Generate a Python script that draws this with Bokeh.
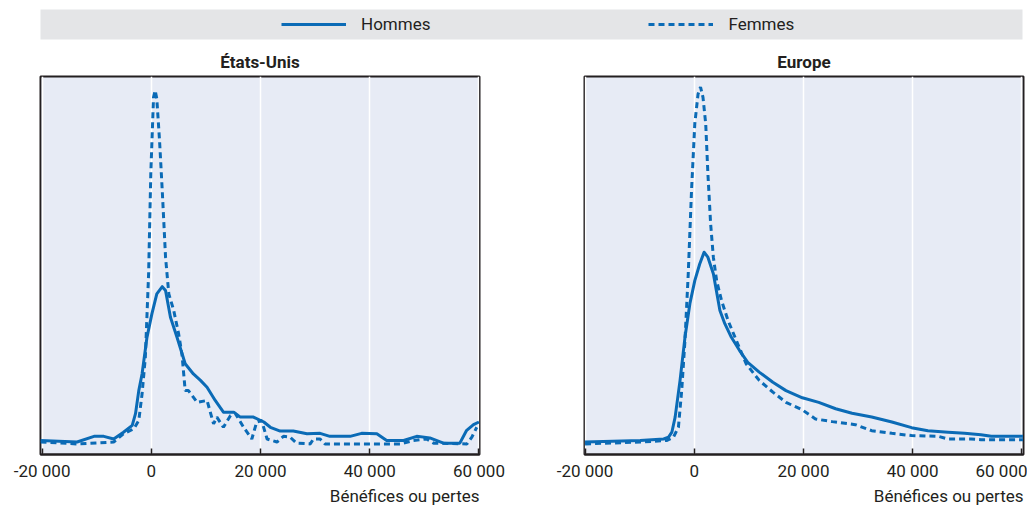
from bokeh.plotting import figure
from bokeh.models import Range1d, FixedTicker, Legend, LegendItem, Title
from bokeh.layouts import column, row
from bokeh.embed import file_html
from bokeh.resources import INLINE

# ---------------- data ----------------
panel_titles = ["États-Unis", "Europe"]
series_names = ["Hommes", "Femmes"]
x_axis_label = "Bénéfices ou pertes"
tick_values = [-20000, 0, 20000, 40000, 60000]
tick_labels = ["-20 000", "0", "20 000", "40 000", "60 000"]

us_hommes_x = [-20300, -13600, -10500, -8700, -6900, -5100, -3500, -2900, -2300, -1700, -800, 100,
               1000, 2000, 2600, 3500, 4700, 6200, 7700, 9000, 10200, 11700, 13200, 15100, 16300,
               18700, 20600, 21800, 23600, 26000, 28500, 30900, 32700, 36400, 38500, 41300, 43100,
               46200, 48600, 51000, 53500, 56500, 57700, 59000, 60000]
us_hommes_y = [3.7, 3.3, 4.8, 4.8, 4.1, 5.9, 7.7, 10.8, 16.9, 21.3, 31.0, 37.2, 42.5, 44.4, 43.4,
               36.3, 31.0, 24.0, 21.3, 19.6, 17.8, 14.3, 11.2, 11.2, 9.9, 9.9, 8.6, 7.2, 6.2, 6.2,
               5.5, 5.6, 4.8, 4.8, 5.6, 5.5, 3.7, 3.7, 4.8, 4.4, 3.0, 3.0, 6.3, 7.9, 8.6]

us_femmes_x = [-20300, -13600, -6900, -5100, -3200, -2300, -1700, -1100, -500, -100, 400, 700, 1000,
               1500, 2000, 2600, 3200, 4100, 5000, 5600, 6200, 6800, 8400, 10200, 11400, 12000,
               13200, 14500, 15400, 16900, 18400, 19300, 20200, 21200, 23000, 24200, 25400, 26600,
               29100, 29700, 30900, 31800, 45600, 48000, 50400, 51700, 57800, 58700, 59600]
us_femmes_y = [3.3, 2.8, 3.3, 5.5, 6.8, 9.0, 16.0, 25.7, 47.8, 74.3, 94.5, 96.3, 94.1, 83.1, 69.8,
               52.2, 42.5, 38.1, 31.9, 26.6, 16.9, 16.9, 13.8, 14.3, 8.1, 9.9, 7.2, 10.3, 10.8, 7.2,
               4.1, 8.6, 9.0, 4.1, 3.3, 4.8, 4.6, 3.0, 2.8, 4.1, 4.1, 2.8, 2.8, 3.7, 4.1, 3.0, 2.8,
               4.6, 7.2]

eu_hommes_x = [-20000, -9900, -5600, -4700, -4100, -3500, -2600, -1700, -800, 100, 1000, 1800, 2500,
               3500, 4700, 5600, 6800, 8300, 9800, 11900, 14400, 16800, 19800, 22800, 25900, 28900,
               32500, 36200, 39800, 42800, 46500, 49500, 52500, 54400, 60200]
eu_hommes_y = [3.3, 3.7, 4.1, 4.6, 5.9, 9.9, 19.6, 31.0, 39.9, 46.0, 50.4, 53.5, 52.2, 47.8, 38.1,
               34.6, 31.0, 27.5, 24.4, 21.8, 19.1, 16.9, 15.0, 13.8, 12.1, 10.9, 9.9, 8.6, 7.1, 6.3,
               5.9, 5.6, 5.2, 4.8, 4.8]

eu_femmes_x = [-20000, -9900, -5000, -3800, -2900, -2300, -1700, -1100, -500, 100, 700, 1150, 1600,
               2100, 2500, 3000, 3500, 4100, 5000, 6200, 7700, 9500, 11900, 14400, 16800, 19800,
               22200, 25300, 29500, 32500, 36200, 39800, 44700, 46500, 50700, 52500, 60200]
eu_femmes_y = [2.8, 3.3, 3.7, 4.6, 7.2, 16.9, 30.2, 47.8, 69.8, 87.5, 95.4, 97.2, 94.5, 87.5, 74.3,
               61.0, 52.2, 46.0, 40.7, 35.4, 30.2, 24.0, 19.6, 16.5, 13.8, 11.8, 9.4, 8.7, 7.9, 6.3,
               5.6, 5.0, 4.8, 4.1, 4.1, 3.9, 3.9]

# ---------------- styles ----------------
FONT = "Roboto"
BLUE = "#0B6BB6"
TEXT = "#231F20"
PANEL_BG = "#E7EBF5"
LEGEND_BG = "#E4E5E7"
DASH = "6 4"
LW = 3


def make_panel(title, hx, hy, fx, fy, xr, width, bl, br):
    p = figure(width=width, height=462, output_backend="svg", toolbar_location=None,
               x_range=Range1d(*xr), y_range=Range1d(0, 100),
               min_border_left=bl, min_border_right=br, min_border_top=32, min_border_bottom=52,
               background_fill_color=PANEL_BG, border_fill_color="white")
    p.line(hx, hy, line_color=BLUE, line_width=LW, line_join="round")
    p.line(fx, fy, line_color=BLUE, line_width=LW, line_dash=DASH)
    p.title.text = title
    p.title.align = "center"
    p.title.text_font = FONT
    p.title.text_font_size = "17px"
    p.title.text_font_style = "bold"
    p.title.text_color = TEXT
    p.title.standoff = 10
    p.outline_line_color = TEXT
    p.outline_line_width = 2
    p.outline_line_alpha = 1
    p.yaxis.visible = False
    p.ygrid.visible = False
    p.xgrid.grid_line_color = "white"
    p.xgrid.grid_line_width = 1.5
    ax = p.xaxis[0]
    ax.ticker = FixedTicker(ticks=tick_values)
    ax.major_label_overrides = {v: l for v, l in zip(tick_values, tick_labels)}
    ax.major_tick_in = 6
    ax.major_tick_out = 0
    ax.minor_tick_line_color = None
    ax.major_tick_line_color = TEXT
    ax.major_tick_line_width = 1.5
    ax.axis_line_color = TEXT
    ax.axis_line_width = 2
    ax.major_label_text_font = FONT
    ax.major_label_text_font_size = "17px"
    ax.major_label_text_color = TEXT
    ax.major_label_standoff = 6
    lab = Title(text=x_axis_label, align="right", text_font=FONT, text_font_size="17px",
                text_font_style="normal", text_color=TEXT, standoff=0)
    p.add_layout(lab, "below")
    return p


p1 = make_panel(panel_titles[0], us_hommes_x, us_hommes_y, us_femmes_x, us_femmes_y,
                (-20300, 60100), 520, 40, 41)
p2 = make_panel(panel_titles[1], eu_hommes_x, eu_hommes_y, eu_femmes_x, eu_femmes_y,
                (-20100, 60300), 507, 64, 4)

# legend strip
lg = figure(width=1027, height=44, output_backend="svg", toolbar_location=None,
            x_range=Range1d(0, 1), y_range=Range1d(0, 1),
            min_border_left=40, min_border_right=5, min_border_top=9, min_border_bottom=5,
            background_fill_color=LEGEND_BG, border_fill_color="white", outline_line_color=None)
lg.axis.visible = False
lg.grid.visible = False
nan = float("nan")
r_h = lg.line([nan], [nan], line_color=BLUE, line_width=LW)
r_f = lg.line([nan], [nan], line_color=BLUE, line_width=LW, line_dash=DASH)
legend = Legend(items=[LegendItem(label=series_names[0], renderers=[r_h]),
                       LegendItem(label=series_names[1], renderers=[r_f])],
                orientation="horizontal", location=(241, 5), padding=0, margin=0,
                spacing=218, glyph_width=65, glyph_height=20, label_standoff=15,
                label_text_font=FONT, label_text_font_size="17px", label_text_color=TEXT,
                background_fill_alpha=0, border_line_color=None)
lg.add_layout(legend, "center")

layout = column(lg, row(p1, p2))
open("out.html", "w").write(file_html(layout, INLINE))
